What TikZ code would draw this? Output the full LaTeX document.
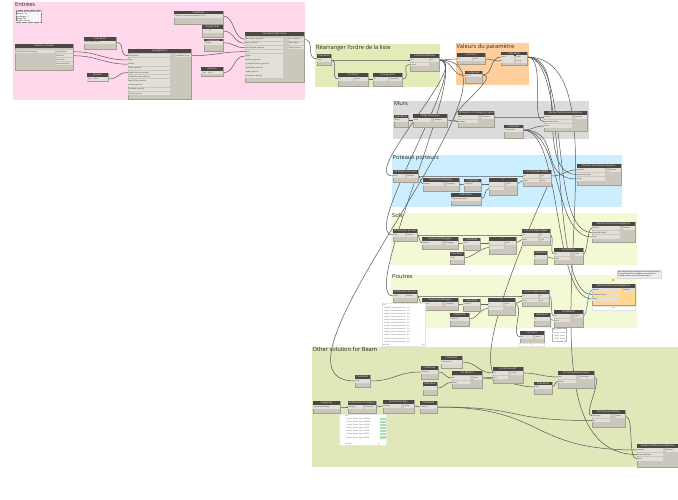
\documentclass[tikz,border=0pt]{standalone}
\usepackage{fontspec}
\setmainfont{Open Sans}
\usetikzlibrary{calc,backgrounds}
\pgfdeclarelayer{grp}\pgfdeclarelayer{wirelayer}
\pgfsetlayers{grp,wirelayer,main}
\definecolor{cbody}{HTML}{CBC7BC}\definecolor{chead}{HTML}{4A4744}\definecolor{crow}{HTML}{E2DFD8}
\definecolor{cwire}{HTML}{565656}\definecolor{cblue}{HTML}{5AA0D0}\definecolor{csel}{HTML}{FFD793}\definecolor{cchip}{HTML}{A8DDB0}
\definecolor{gA}{HTML}{FFD8EC}\definecolor{gB}{HTML}{E3EBB8}\definecolor{gC}{HTML}{FFCF9E}\definecolor{gD}{HTML}{DBDBDB}
\definecolor{gE}{HTML}{CCEFFF}\definecolor{gF}{HTML}{F4F9D5}\definecolor{gG}{HTML}{E0E8B9}
\tikzset{
 grpbox/.style={anchor=north west,inner sep=0,outer sep=0},
 grptitle/.style={anchor=north west,inner sep=0,font=\fontsize{5.7}{7}\selectfont,text=black!85},
 body/.style={anchor=north west,fill=cbody,inner sep=0,outer sep=0,draw=cbody!80!black,line width=.15pt},
 head/.style={anchor=north west,fill=chead,inner sep=0,outer sep=0,minimum height=4pt,text=white,font=\fontsize{2.3}{2.5}\selectfont},
 rowlab/.style={fill=crow,inner sep=0,outer sep=0,minimum height=3.4pt,text height=1.5pt,text depth=.3pt,font=\fontsize{1.8}{2}\selectfont,text=black!80},
 wire/.style={draw=cwire,line width=.5pt},
 sel/.style={draw=cblue,line width=.7pt},
 notebox/.style={anchor=north west,inner sep=.8pt,fill=black!3,draw=black!45,densely dotted,line width=.2pt,align=left,font=\fontsize{1.8}{2.2}\selectfont},
 listbox/.style={anchor=north west,inner sep=1pt,fill=white,draw=black!10,line width=.15pt,align=left,font=\fontsize{1.7}{3.1}\selectfont,text=black!70}
}
\newcommand\grp[6]{\pgfmathsetmacro\gw{#3-#2}\pgfmathsetmacro\gh{#5-#4}%
 \node[grpbox,fill=#6,minimum width=\gw pt,minimum height=\gh pt] (#1) at (#2,#4) {};}
\newcommand\dn[7][cbody]{\pgfmathsetmacro\nw{#4-#3}\pgfmathsetmacro\nh{#6-#5}%
 \node[body,fill=#1,minimum width=\nw pt,minimum height=\nh pt] (#2) at (#3,#5) {};
 \node[head,minimum width=\nw pt] (#2h) at (#3,#5) {#7};}
\newcommand\rl[3]{\foreach \yy/\lb [count=\ci] in {#3}{\node[rowlab,anchor=north west] (#1L\ci) at ($(#1.north west)+(0,\yy-1.7)$) {\makebox[#2pt][l]{\hspace{.3pt}\lb}};}}
\newcommand\rr[3]{\foreach \yy/\lb [count=\ci] in {#3}{\node[rowlab,anchor=north east] (#1R\ci) at ($(#1.north east)+(0,\yy-1.7)$) {\makebox[#2pt][l]{\hspace{.3pt}\lb}};}}
\newcommand\wire[7][wire]{\draw[#1] ($(#2.north east)+(0,#3)$) .. controls +(#6,0) and +(-#7,0) .. ($(#4.north west)+(0,#5)$);}
\begin{document}
\begin{tikzpicture}[x=1pt,y=-1pt]
\useasboundingbox (0,0) rectangle (678,500);
\begin{pgfonlayer}{grp}
\fill[white] (0,0) rectangle (678,500);
\grp{GA}{13}{305}{2}{100}{gA}
\grp{GB}{315}{440}{44}{87}{gB}
\grp{GC}{456}{529}{43}{85}{gC}
\grp{GD}{393}{589}{101}{139}{gD}
\grp{GE}{392}{622}{155}{207}{gE}
\grp{GF}{391}{637}{213}{265}{gF}
\grp{GH}{391}{637}{275}{328}{gF}
\grp{GI}{312}{678}{347}{467}{gG}
\node[grptitle] (TA) at (15,2) {Entrées};
\node[grptitle] (TB) at (316,44.5) {Réarranger l'ordre de la liste};
\node[grptitle] (TC) at (456.5,43.5) {Valeurs du paramètre};
\node[grptitle] (TD) at (394,101.5) {Murs};
\node[grptitle] (TE) at (392.5,155) {Poteaux porteurs};
\node[grptitle] (TF) at (392,213) {Sols};
\node[grptitle] (TH) at (392,274) {Poutres};
\node[grptitle] (TI) at (312.5,347) {Other solution for Beam};
\end{pgfonlayer}
% notes
\node[notebox] (NA) at (15.5,10.5) {Création de Familles de mur\\Hauteur : 3,0\\Nb d'étages : 3\\Niveau 0 à n\\Famille : Poteau};
\node[notebox,solid,draw=black!15,fill=black!7] (NB) at (617,270) {Avec l'algorithme de filtrage de la liste des poutres,\\les lignes de la liste de poutres sont mises en\\correspondance avec la liste de valeurs};
\node[circle,fill=orange!70,inner sep=0,minimum size=3pt] (NC) at (613,280) {};
% Entrees
\dn{A}{15}{73}{44}{70}{Collector of Levels}
\rl{A}{40}{7.7/Level.Collector.OfCategory}
\rr{A}{17}{7.7/Level.Name,11.7/Elevation,15.7/Structural,19.7/Room Bounding}
\dn{B}{84}{116}{37}{49}{Code Block}
\rl{B}{31}{5.3/"Inst\_Column\_Foo";}
\dn{C}{87}{108}{73}{81}{Boolean}
\rl{C}{21}{6/ True \quad False}
\dn{D}{128}{191}{49}{99}{Level.ByName}
\rl{D}{42}{6.7/familyName,11/Plug,15.2/Bundle,19.4/height\_optional,23.6/heightOverride\_optional,27.8/breadthOverride\_optional,32/depthOffset\_optional,36.2/default\_optional,40.4/lineName\_optional,44.6/levelID\_optional}
\rr{D}{15}{6.7/LevelMass Type}
\dn{E}{174}{223}{11}{24}{Code Block}
\rl{E}{49}{5/"Colonne\_Poteau\_Rectangulaire\_200";}
\dn{F}{202}{223}{25}{37}{Integer Slider}
\rr{F}{20}{6/ \quad 2 \quad Inf}
\dn{G}{204}{223}{39}{51}{Code Block}
\rl{G}{19}{4/"Column";}
\dn{H}{201}{223}{67}{76}{Boolean}
\rl{H}{22}{5.7/ \ True \quad False}
\dn{I}{245}{304}{32}{82}{Set Material ByCriteria}
\rl{I}{38}{7.3/sourceInput\_optional,11.3/Login\_optional,15.7/sourceGroup\_optional,19.7/level,24/height,28/lineClass\_optional,32/is\_multipleColumn\_optional,36/depthMode\_optional,40/model\_optional,44/parameter\_optional}
\rr{I}{15}{7.3/Inst. Instance,11.3/Mass Type,15.7/Map Columns}
% Rearranger
\dn{J}{317}{331}{54}{65}{Code Block}
\rl{J}{14}{6/0..\#x;}
\dn{K}{410}{439}{54}{71}{List.GetItemAtIndex}
\rl{K}{19}{6/list,10.5/indices}
\rr{K}{9}{6/list}
\dn{L}{338}{368}{73}{86}{List.Count}
\rl{L}{15}{6/list}
\rr{L}{13}{6/count}
\dn{M}{373}{402}{73}{86}{List.Sequence}
\rl{M}{15}{6/list}
\rr{M}{12}{6/sequence}
% Valeurs
\dn{N}{457}{485}{53}{64}{List.Count}
\rl{N}{15}{6/list}
\rr{N}{12}{6/count}
\dn{O}{501}{527}{52}{65}{Code Block}
\rl{O}{13}{5/count,9/a}
\rr{O}{11}{5/array,9/string}
\dn{P}{465}{482}{71}{83}{Code Block}
\rl{P}{17}{4.5/"0.25";}
% Murs
\dn{Q}{394}{408}{115}{127}{Code Block}
\rl{Q}{14}{5/"Murs";}
\dn{R}{413}{447}{114}{127}{Category.ByName}
\rl{R}{18}{6/name}
\rr{R}{13}{6/Category}
\dn{S}{458}{494}{111}{127}{All Elements of Category At Level}
\rl{S}{20}{6/level,10.5/category}
\rr{S}{12}{6/Element}
\dn{T}{504}{523}{125}{138}{Code Block}
\rl{T}{19}{5/"Comments";}
\dn{U}{544}{587}{111}{131}{Element.SetParameterByName}
\rl{U}{28}{6/element,10.5/parameterName,15/value}
\rr{U}{12}{6/Element}
% Poteaux
\dn{V}{393}{418}{170}{182}{All Elements at Level}
\rl{V}{12}{6/Level}
\rr{V}{11}{6/Element}
\dn{W}{423}{459}{178}{191}{Element.GetCategory}
\rl{W}{20}{6/element}
\rr{W}{12}{6/Category}
\dn{X}{464}{481}{179}{191}{Code Block}
\rl{X}{17}{5/"Poteaux";}
\dn{Y}{489}{517}{178}{195}{==}
\rl{Y}{15}{6/x,10.5/y}
\rr{Y}{10}{6/bool}
\dn{Z}{451}{481}{193}{205}{Code Block}
\rl{Z}{30}{6/"Poteaux porteurs";}
\dn{AA}{523}{551}{170}{186}{List.FilterByBoolMask}
\rl{AA}{16}{6/list,10.5/mask}
\rr{AA}{9}{6/in,10.5/out}
\dn{AB}{577}{621}{164}{185}{Element.SetParameterByName}
\rl{AB}{28}{6/element,10.5/parameterName,15/value}
\rr{AB}{12}{6/Element}
% Sols
\dn{BA}{393}{417}{229}{241}{All Elements at Level}
\rl{BA}{12}{6/Level}
\rr{BA}{11}{6/Element}
\dn{BB}{422}{458}{237}{249}{Element.GetCategory}
\rl{BB}{20}{6/element}
\rr{BB}{12}{6/Category}
\dn{BC}{463}{480}{238}{250}{Code Block}
\rl{BC}{17}{5/"Sols";}
\dn{BD}{489}{516}{237}{254}{==}
\rl{BD}{15}{6/x,10.5/y}
\rr{BD}{10}{6/bool}
\dn{BE}{450}{464}{252}{264}{Code Block}
\rl{BE}{14}{6/"Sols";}
\dn{BF}{522}{550}{229}{245}{List.FilterByBoolMask}
\rl{BF}{16}{6/list,10.5/mask}
\rr{BF}{9}{6/in,10.5/out}
\dn{BG}{592}{635}{222}{242}{Element.SetParameterByName}
\rl{BG}{28}{6/element,10.5/parameterName,15/value}
\rr{BG}{12}{6/Element}
\dn{BH}{534}{547}{251}{264}{Code Block}
\rl{BH}{13}{6/"0";}
\dn{BI}{554}{583}{248}{264}{List.GetItem}
\rl{BI}{16}{6/list,10.5/index}
\rr{BI}{8}{6/item}
% Poutres
\dn{CA}{393}{417}{290}{302}{All Elements at Level}
\rl{CA}{12}{6/Level}
\rr{CA}{11}{6/Element}
\dn{CB}{422}{458}{298}{310}{Element.GetCategory}
\rl{CB}{20}{6/element}
\rr{CB}{12}{6/Category}
\dn{CC}{463}{480}{299}{311}{Code Block}
\rl{CC}{17}{5/"Poutres";}
\dn{CD}{488}{515}{298}{315}{==}
\rl{CD}{15}{6/x,10.5/y}
\rr{CD}{10}{6/bool}
\dn{CE}{450}{469}{313}{326}{Code Block}
\rl{CE}{19}{6/"Poutres";}
\dn{CF}{522}{549}{290}{306}{List.FilterByBoolMask}
\rl{CF}{16}{6/list,10.5/mask}
\rr{CF}{9}{6/in,10.5/out}
\dn{CG}{534}{550}{313}{326}{Code Block}
\rl{CG}{16}{6/0;}
\dn{CH}{554}{583}{310}{327}{List.GetItem}
\rl{CH}{16}{6/list,10.5/index}
\rr{CH}{8}{6/item}
\dn{CI}{520}{544}{331}{343}{List.Count}
\rl{CI}{13}{6/list}
\rr{CI}{9}{6/count}
\dn[csel]{CJ}{592}{635}{284}{305}{Element.SetParameterByName}
\rl{CJ}{28}{6/element,10.5/parameterName,15/value}
\rr{CJ}{12}{6/Element}
\node[listbox,minimum width=43pt,minimum height=4pt] (CK) at (592,306) {null};
\node[listbox] (CL) at (382,303) {List\\[-.4pt]\ \ \ Family: Poutre, Element Id : 312\\\ \ \ Family: Poutre, Element Id : 313\\\ \ \ Family: Poutre, Element Id : 314\\\ \ \ Family: Poutre, Element Id : 315\\\ \ \ Family: Poutre, Element Id : 316\\\ \ \ Family: Poutre, Element Id : 317\\\ \ \ Family: Poutre, Element Id : 318\\\ \ \ Family: Poutre, Element Id : 319\\\ \ \ Family: Poutre, Element Id : 320\\\ \ \ Family: Poutre, Element Id : 321\\\ \ \ Family: Poutre, Element Id : 322\\\ \ \ Family: Poutre, Element Id : 323\\@L2 @L1 \hspace{30pt} \{14\}};
\node[listbox,draw=black!30,densely dotted] (CM) at (552,328) {List\\\ \ Family: Poutre\\\ \ Family: Poutre\\\ \ Family: Poutre};
\node[listbox,minimum width=26pt] (CN) at (518,343) {3};
% Other
\dn{DA}{355}{370}{375}{387}{Code Block}
\rl{DA}{15}{6/0..\#x;}
\dn{DB}{421}{438}{366}{379}{Code Block}
\rl{DB}{17}{6/"Poutres";}
\dn{DC}{423}{437}{382}{395}{Code Block}
\rl{DC}{14}{6/1;}
\dn[cbody!70!white]{DD}{441}{462}{356}{368}{Code Block}
\rl{DD}{21}{6/"Comments";}
\dn{DE}{452}{482}{371}{388}{List.GetItem}
\rl{DE}{18}{7/list,11.5/index}
\rr{DE}{8}{7/item}
\dn{DF}{493}{523}{367}{383}{List.AllIndicesOf}
\rl{DF}{15}{6/list,10.5/item}
\rr{DF}{12}{6/int[]..[]}
\dn{DG}{534}{552}{382}{394}{Code Block}
\rl{DG}{18}{5/list[i];}
\dn{DH}{558}{594}{371}{388}{Dictionary.ByKeysValues}
\rl{DH}{18}{6/keys,10.5/values}
\rr{DH}{14}{6/dictionary}
\dn{DI}{592}{625}{410}{427}{Dictionary.ValueAtKey}
\rl{DI}{18}{6/dictionary,10.5/key}
\rr{DI}{9}{6/value}
\dn{DJ}{637}{678}{444}{467}{Element.SetParameterByName}
\rl{DJ}{26}{6/element,10.5/parameterName,15/value}
\rr{DJ}{12}{6/Element}
\dn{DK}{313}{340}{401}{413}{Categories}
\rl{DK}{27}{6/ Structural Framing}
\dn{DL}{348}{376}{401}{413}{All Elements of Category}
\rl{DL}{15}{6/Category}
\rr{DL}{11}{6/Elements}
\dn{DM}{383}{414}{400}{413}{Element.GetType}
\rl{DM}{18}{6/element}
\rr{DM}{10}{6/string}
\dn{DN}{420}{437}{401}{413}{Code Block}
\rl{DN}{17}{6/"Poutres";}
\node[listbox,minimum width=47pt] (DO) at (339,414) {List\\\ \ \ Family: Poutre, Type: HEA200\\\ \ \ Family: Poutre, Type: HEA200\\\ \ \ Family: Poutre, Type: HEA200\\\ \ \ Family: Poutre, Type: IPE300\\\ \ \ Family: Poutre, Type: IPE300\\\ \ \ Family: Poutre, Type: IPE300\\\ \ \ Family: Poutre, Type: IPE300\\\ \\@L2 @L1 \hspace{24pt} \{7\}};
\foreach \gy [count=\gi] in {417.5,420.6,423.7,426.8,429.9,433,436.1}{\fill[cchip] (380,\gy) rectangle (385.5,\gy+2.4);}
\begin{pgfonlayer}{wirelayer}
\wire{A}{7.7}{D}{11}{25}{25}
\wire{A}{11.7}{D}{15.2}{25}{25}
\wire{B}{5.3}{D}{6.7}{10}{10}
\wire{C}{6}{D}{23.6}{12}{12}
\wire{D}{6.7}{I}{19.7}{25}{25}
\wire{E}{5}{I}{7.3}{12}{12}
\wire{F}{6}{I}{11.3}{12}{12}
\wire{G}{3.7}{I}{15.7}{12}{12}
\wire{H}{5.7}{I}{24}{12}{12}
\wire{I}{7.3}{J}{5}{12}{12}
\wire{J}{6}{K}{6}{25}{25}
\wire{J}{6}{L}{6}{8}{8}
\wire{L}{6}{M}{6}{3}{3}
\wire{M}{6}{K}{10.5}{10}{10}
\wire{K}{6}{N}{6}{10}{10}
\wire{K}{6}{P}{4.5}{14}{14}
\wire{N}{6}{O}{9}{8}{8}
\wire{P}{4}{O}{5}{12}{12}
\wire{K}{6}{V}{6}{35}{35}
\wire{K}{6}{BA}{6}{35}{35}
\wire{K}{6}{CA}{6}{35}{35}
\wire{K}{6}{DA}{6}{110}{110}
\wire{P}{4}{S}{10.5}{22}{22}
\wire{Q}{5}{R}{6}{3}{3}
\wire{R}{6}{S}{10.5}{6}{6}
\wire{S}{6}{U}{6}{15}{15}
\wire{O}{5}{U}{10.5}{20}{15}
\wire{T}{5}{U}{15}{10}{10}
\wire{O}{5}{AB}{10.5}{45}{45}
\wire{O}{5}{BG}{10.5}{45}{45}
\wire{O}{5}{CJ}{10.5}{45}{45}
\wire{O}{5}{DJ}{10.5}{115}{140}
\wire{T}{5}{AB}{15}{40}{40}
\wire{T}{5}{BG}{15}{40}{40}
\wire{T}{5}{CJ}{15}{40}{40}
\wire{V}{6}{W}{6}{3}{3}
\wire{V}{6}{AA}{6}{30}{30}
\wire{W}{6}{Y}{6}{10}{10}
\wire{X}{5}{Y}{6}{3}{3}
\wire{Z}{6}{Y}{10.5}{5}{5}
\wire{Y}{6}{AA}{10.5}{3}{3}
\wire{AA}{6}{AB}{6}{12}{12}
\wire{BA}{6}{BB}{6}{3}{3}
\wire{BA}{6}{BF}{6}{30}{30}
\wire{BB}{6}{BD}{6}{10}{10}
\wire{BC}{5}{BD}{6}{3}{3}
\wire{BE}{6}{BD}{10.5}{8}{8}
\wire{BD}{6}{BF}{10.5}{3}{3}
\wire{BF}{6}{BI}{6}{5}{5}
\wire{BH}{6}{BI}{10.5}{3}{3}
\wire{BI}{6}{BG}{6}{5}{5}
\wire{CA}{6}{CB}{6}{3}{3}
\wire{CA}{6}{CF}{6}{30}{30}
\wire{CB}{6}{CD}{6}{10}{10}
\wire{CC}{5}{CD}{6}{3}{3}
\wire{CE}{6}{CD}{10.5}{8}{8}
\wire{CD}{6}{CF}{10.5}{3}{3}
\wire{CD}{6}{CI}{6}{10}{10}
\wire[sel]{CF}{6}{CH}{6}{5}{5}
\wire[sel]{CG}{6}{CH}{10.5}{3}{3}
\wire[sel]{CH}{6}{CJ}{6}{5}{5}
\draw[wire] ($(AA.north east)+(0,8)$) .. controls (535,215) and (478,340) .. ($(DF.north west)+(0,6)$);
\wire{DA}{6}{DB}{6}{25}{25}
\wire{DB}{6}{DE}{7}{8}{8}
\wire{DC}{6}{DE}{11.5}{8}{8}
\wire{DD}{6}{DF}{6}{15}{15}
\wire{DE}{7}{DF}{10.5}{5}{5}
\wire{DE}{7}{DG}{5}{15}{15}
\wire{DF}{6}{DH}{6}{15}{15}
\wire{DG}{5}{DH}{10.5}{3}{3}
\wire{DH}{6}{DI}{6}{10}{10}
\wire{DI}{6}{DJ}{15}{10}{10}
\wire{DK}{6}{DL}{6}{3}{3}
\wire{DL}{6}{DM}{6}{3}{3}
\wire{DM}{6}{DN}{6}{3}{3}
\wire{DN}{6}{DI}{10.5}{90}{90}
\wire{DN}{6}{DJ}{6}{110}{110}
\end{pgfonlayer}
\end{tikzpicture}
\end{document}
